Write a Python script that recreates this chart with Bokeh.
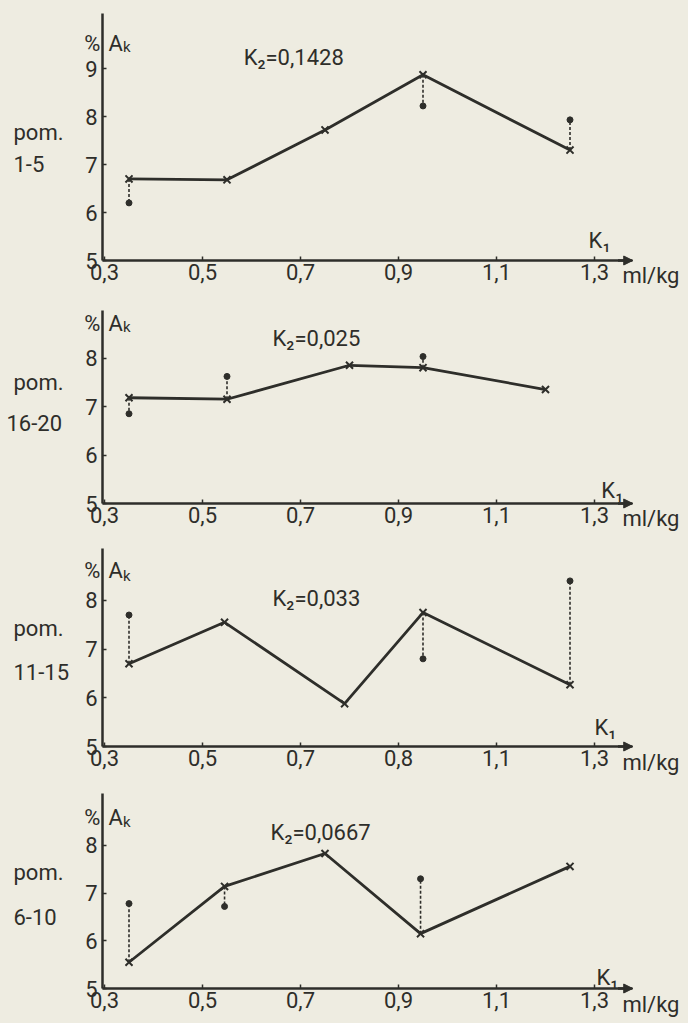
from bokeh.plotting import figure
from bokeh.layouts import column
from bokeh.models import Label, FixedTicker, CustomJSTickFormatter, Arrow, NormalHead, Range1d
from bokeh.embed import file_html
from bokeh.resources import INLINE

# ---------------- data ----------------
x_tick_values = [0.3, 0.5, 0.7, 0.9, 1.1, 1.3]
x_labels_std = ["0,3", "0,5", "0,7", "0,9", "1,1", "1,3"]
x_labels_p3 = ["0,3", "0,5", "0,7", "0,8", "1,1", "1,3"]

panel_names = ["1-5", "16-20", "11-15", "6-10"]
k2_labels = ["K\u2082=0,1428", "K\u2082=0,025", "K\u2082=0,033", "K\u2082=0,0667"]

k1_p1 = [0.35, 0.55, 0.75, 0.95, 1.25]
ak_p1 = [6.70, 6.68, 7.72, 8.87, 7.30]
dot_p1 = [6.20, None, None, 8.22, 7.93]

k1_p2 = [0.35, 0.55, 0.80, 0.95, 1.20]
ak_p2 = [7.18, 7.15, 7.85, 7.80, 7.35]
dot_p2 = [6.85, 7.62, None, 8.03, None]

k1_p3 = [0.35, 0.545, 0.79, 0.95, 1.25]
ak_p3 = [6.70, 7.55, 5.88, 7.75, 6.27]
dot_p3 = [7.70, None, None, 6.80, 8.40]

k1_p4 = [0.35, 0.545, 0.75, 0.945, 1.25]
ak_p4 = [5.55, 7.14, 7.83, 6.15, 7.56]
dot_p4 = [6.78, 6.72, None, 7.30, None]

# ---------------- style / layout ----------------
INK = "#2e2e2a"
PAPER = "#eeece1"
FONT = "Roboto"
FS = "22px"

FIG_W = 680
PPX = 490.0                      # pixels per K1 unit
XR = (0.3 - 104 / PPX, 0.3 + (FIG_W - 104) / PPX)
X_AX0, X_AX1 = 0.296, 1.378      # extent of drawn x axis


def lab(p, x, y, text, size=FS, align="left", baseline="middle"):
    p.add_layout(Label(x=x, y=y, text=text, text_font=FONT, text_font_size=size,
                       text_color=INK, text_align=align, text_baseline=baseline))


def make_panel(k1, ak, dots, xlabels, name, k2, yticks, cfg):
    h = cfg["h"]
    ppu = cfg["ppu"]
    below = cfg["below"]
    above = h - below
    p = figure(width=FIG_W, height=h, output_backend="svg", toolbar_location=None,
               x_range=Range1d(*XR), y_range=Range1d(5 - below / ppu, 5 + above / ppu),
               min_border=0, background_fill_color=PAPER, border_fill_color=PAPER)
    p.outline_line_color = None
    p.xgrid.visible = False
    p.ygrid.visible = False

    xa = p.xaxis[0]
    ya = p.yaxis[0]
    xa.fixed_location = 5
    ya.fixed_location = X_AX0
    xa.bounds = (X_AX0, X_AX1)
    ya.bounds = (5, cfg["ytop"])
    for ax in (xa, ya):
        ax.axis_line_color = INK
        ax.axis_line_width = 2.5
        ax.major_tick_line_color = INK
        ax.major_tick_line_width = 1.5
        ax.major_tick_in = 4
        ax.major_tick_out = 0
        ax.minor_tick_line_color = None
        ax.major_label_text_font = FONT
        ax.major_label_text_font_size = FS
        ax.major_label_text_color = INK
    xa.ticker = FixedTicker(ticks=x_tick_values)
    xa.formatter = CustomJSTickFormatter(args=dict(labels=xlabels), code="return labels[index];")
    xa.major_label_standoff = 3
    ya.ticker = FixedTicker(ticks=yticks)
    ya.major_label_standoff = 5

    p.add_layout(Arrow(end=NormalHead(size=9, fill_color=INK, line_color=INK),
                       x_start=X_AX1 - 0.03, y_start=5, x_end=X_AX1, y_end=5,
                       line_color=INK, line_width=2.5))

    sx, sy0, sy1 = [], [], []
    for xv, yv, dv in zip(k1, ak, dots):
        if dv is not None:
            sx.append(xv)
            sy0.append(yv)
            sy1.append(dv)
    p.segment(x0=sx, y0=sy0, x1=sx, y1=sy1, line_color=INK, line_width=1.6, line_dash="3 2")
    p.scatter(x=sx, y=sy1, size=6, marker="circle", fill_color=INK, line_color=INK)

    p.line(x=k1, y=ak, line_color=INK, line_width=2.8)
    p.scatter(x=k1, y=ak, size=10, marker="x", line_color=INK, line_width=2)

    lab(p, 0.2918, cfg["pct_y"], "%", align="right")
    lab(p, 0.308, cfg["pct_y"], "A")
    lab(p, 0.338, cfg["k_y"], "k", size="15px")
    lab(p, cfg["k2_x"], cfg["k2_y"], k2)
    lab(p, 0.1143, cfg["pom_y"], "pom.")
    lab(p, cfg["name_x"], cfg["name_y"], name)
    lab(p, cfg["k1_x"], cfg["k1_y"], "K\u2081")
    lab(p, 1.357, cfg["ml_y"], "ml/kg")
    return p


cfgs = [
    dict(h=290, below=30, ppu=48.0, ytop=10.15, pct_y=9.52, k_y=9.44, k2_x=0.584, k2_y=9.23,
         pom_y=7.67, name_x=0.1143, name_y=7.02, k1_x=1.288, k1_y=5.42, ml_y=4.69),
    dict(h=243, below=30, ppu=48.5, ytop=8.98, pct_y=8.71, k_y=8.63, k2_x=0.643, k2_y=8.40,
         pom_y=7.49, name_x=0.100, name_y=6.65, k1_x=1.314, k1_y=5.27, ml_y=4.69),
    dict(h=243, below=30, ppu=48.7, ytop=9.07, pct_y=8.61, k_y=8.51, k2_x=0.643, k2_y=8.04,
         pom_y=7.42, name_x=0.1143, name_y=6.52, k1_x=1.30, k1_y=5.39, ml_y=4.67),
    dict(h=247, below=35, ppu=47.7, ytop=9.09, pct_y=8.58, k_y=8.50, k2_x=0.639, k2_y=8.27,
         pom_y=7.43, name_x=0.1143, name_y=6.49, k1_x=1.304, k1_y=5.23, ml_y=4.66),
]

p1 = make_panel(k1_p1, ak_p1, dot_p1, x_labels_std, panel_names[0], k2_labels[0], [5, 6, 7, 8, 9], cfgs[0])
p2 = make_panel(k1_p2, ak_p2, dot_p2, x_labels_std, panel_names[1], k2_labels[1], [5, 6, 7, 8], cfgs[1])
p3 = make_panel(k1_p3, ak_p3, dot_p3, x_labels_p3, panel_names[2], k2_labels[2], [5, 6, 7, 8], cfgs[2])
p4 = make_panel(k1_p4, ak_p4, dot_p4, x_labels_std, panel_names[3], k2_labels[3], [5, 6, 7, 8], cfgs[3])

layout = column(p1, p2, p3, p4, spacing=0)

html = file_html(layout, INLINE)
html = html.replace("<head>", "<head><style>body{background-color:%s;}</style>" % PAPER, 1)
open("out.html", "w").write(html)
